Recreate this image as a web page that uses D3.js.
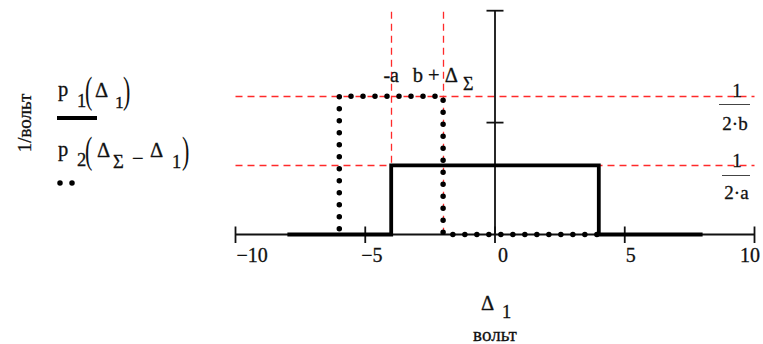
<!DOCTYPE html>
<html>
<head>
<meta charset="utf-8">
<script src="https://cdn.jsdelivr.net/npm/d3@7"></script>
<style>
  html, body { margin: 0; padding: 0; background: #fff; }
  svg { display: block; }
</style>
</head>
<body>
<svg id="chart" width="763" height="344"></svg>
<script>
// Parameters of the two uniform densities
const a = 4;            // half-width of p1
const b = 2;            // half-width of p2
const dSum = -4;        // Δ_Σ

// Axis ticks
const xTicks = [-10, -5, 0, 5, 10];
const xTickLabels = ["\u221210", "\u22125", "0", "5", "10"];
const yMax = 0.405;
const yTicks = [0, yMax / 2, yMax];

// p1(Δ1): step outline on [-8, 8]
const p1X = [-8, -4, -4, 4, 4, 8];
const p1Y = [0, 0, 0.125, 0.125, 0, 0];

// p2(Δ_Σ − Δ1): step outline
const p2X = [-6, -6, -2, -2, 4];
const p2Y = [0, 0.25, 0.25, 0, 0];

// Marker lines
const vMarkers = [-a, b + dSum];
const hMarkers = [0.25, 0.125];

const SERIF = "Liberation Serif";
const svg = d3.select("#chart");

const x = d3.scaleLinear().domain([-10, 10]).range([235.5, 754.5]);
const y = d3.scaleLinear().domain([0, yMax]).range([234.5, 10.7]);
const px = v => Math.round(v) + 0.5;

const RED = "#ff2a2a";
const INK = "#111";

// Horizontal markers
svg.append("g").selectAll("line").data(hMarkers).join("line")
  .attr("x1", x(-10)).attr("x2", x(10))
  .attr("y1", d => px(y(d))).attr("y2", d => px(y(d)))
  .attr("stroke", RED).attr("stroke-width", 1.3)
  .attr("stroke-dasharray", "7 5");

// Vertical markers
svg.append("g").selectAll("line").data(vMarkers).join("line")
  .attr("x1", d => px(x(d))).attr("x2", d => px(x(d)))
  .attr("y1", y(yMax) + 1).attr("y2", y(0))
  .attr("stroke", RED).attr("stroke-width", 1.3)
  .attr("stroke-dasharray", "7 5");

// X axis
const xAxis = svg.append("g");
xAxis.append("line")
  .attr("x1", x(-10)).attr("x2", x(10))
  .attr("y1", y(0)).attr("y2", y(0))
  .attr("stroke", INK).attr("stroke-width", 1.8);
xAxis.selectAll("line.tick").data(xTicks).join("line")
  .attr("class", "tick")
  .attr("x1", d => x(d)).attr("x2", d => x(d))
  .attr("y1", y(0) - 8).attr("y2", y(0) + 8.5)
  .attr("stroke", INK).attr("stroke-width", 1.8);

// Text helper (a hairline stroke gives the glyphs a slightly heavier weight)
function txt(parent, xx, yy, size, s, anchor) {
  return parent.append("text")
    .attr("x", xx).attr("y", yy)
    .attr("font-size", size)
    .attr("font-family", SERIF)
    .attr("fill", INK)
    .attr("stroke", INK).attr("stroke-width", 0.3)
    .attr("text-anchor", anchor || "start")
    .text(s);
}

xTicks.forEach((d, i) => {
  const last = i === xTicks.length - 1;
  txt(xAxis, last ? 760 : x(d) + (d === 0 ? 3 : d === -5 ? -4 : 1), 262, 20,
      xTickLabels[i], last ? "end" : "start");
});

// Y axis
const yAxis = svg.append("g");
yAxis.append("line")
  .attr("x1", x(0)).attr("x2", x(0))
  .attr("y1", y(yMax)).attr("y2", y(0))
  .attr("stroke", INK).attr("stroke-width", 1.8);
yAxis.selectAll("line.tick").data(yTicks.slice(1)).join("line")
  .attr("class", "tick")
  .attr("x1", x(0) - 8.5).attr("x2", x(0) + 8.5)
  .attr("y1", d => y(d)).attr("y2", d => y(d))
  .attr("stroke", INK).attr("stroke-width", 1.8);

// Traces
const line = d3.line().x(d => x(d[0])).y(d => y(d[1]));
const p1Pts = p1X.map((v, i) => [v, p1Y[i]]);
const p2Pts = p2X.map((v, i) => [v, p2Y[i]]);

// Dot phase: put a dot on the top-left corner of p2
const lenToCorner = Math.abs(y(p2Pts[1][1]) - y(p2Pts[0][1]));
const DOT = 12;
const dotOffset = (DOT - (lenToCorner % DOT)) % DOT;

svg.append("path").datum(p1Pts)
  .attr("d", line).attr("fill", "none")
  .attr("stroke", "#000").attr("stroke-width", 3.8)
  .attr("stroke-linejoin", "miter");

svg.append("path").datum(p2Pts)
  .attr("d", line).attr("fill", "none")
  .attr("stroke", "#000").attr("stroke-width", 5.5)
  .attr("stroke-linecap", "round")
  .attr("stroke-dasharray", `0 ${DOT}`)
  .attr("stroke-dashoffset", -dotOffset);

// Marker labels at the top
txt(svg, x(-a), 82, 20, "-a", "middle");
const t2 = svg.append("text")
  .attr("x", x(b + dSum)).attr("y", 82).attr("text-anchor", "middle")
  .attr("font-family", SERIF).attr("fill", INK)
  .attr("stroke", INK).attr("stroke-width", 0.3)
  .attr("font-size", 20.5);
t2.append("tspan").text("b + \u0394");
t2.append("tspan").attr("dx", 5).attr("dy", 8).attr("font-size", 18).text("\u03A3");

// Fraction labels for horizontal markers
function fraction(cx, yNum, yBar, yDen, den, x1, x2) {
  txt(svg, cx, yNum, 19, "1", "middle");
  svg.append("line").attr("x1", x1).attr("x2", x2).attr("y1", yBar + 0.5).attr("y2", yBar + 0.5)
    .attr("stroke", "#444").attr("stroke-width", 1);
  txt(svg, (x1 + x2) / 2 + 0.5, yDen, 19, den, "middle");
}
fraction(737, 97, 104, 130, "2\u00B7b", 719, 750);
fraction(737, 167, 175, 199, "2\u00B7a", 722, 750);

// Axis titles
txt(svg, 481, 310, 20.5, "\u0394");
txt(svg, 502, 318, 18.5, "1");
txt(svg, x(0), 341, 19, "вольт", "middle");

svg.append("text")
  .attr("transform", "translate(31,123) rotate(-90)")
  .attr("text-anchor", "middle").attr("font-size", 19)
  .attr("font-family", SERIF).attr("fill", INK)
  .attr("stroke", INK).attr("stroke-width", 0.3)
  .text("1/вольт");

// Legend
function paren(ch, xx, cy) {
  svg.append("text")
    .attr("transform", `translate(${xx},${cy}) scale(1,1.75)`)
    .attr("y", 5.5).attr("font-size", 22)
    .attr("font-family", SERIF).attr("fill", INK)
    .text(ch);
}
const leg = svg.append("g");
// entry 1: p1(Δ1)
txt(leg, 58, 96, 20.5, "p");
txt(leg, 77, 107, 18.5, "1");
paren("(", 85, 93.5);
txt(leg, 95, 97, 20.5, "\u0394");
txt(leg, 115, 108, 17.5, "1");
paren(")", 123, 93.5);
leg.append("line").attr("x1", 57).attr("x2", 97).attr("y1", 118).attr("y2", 118)
  .attr("stroke", "#000").attr("stroke-width", 3.8);

// entry 2: p2(Δ_Σ − Δ1)
txt(leg, 58, 156, 20.5, "p");
txt(leg, 77, 166, 18.5, "2");
paren("(", 85, 153.5);
txt(leg, 97, 157, 20.5, "\u0394");
txt(leg, 113, 168, 18.5, "\u03A3");
txt(leg, 132, 165, 20.5, "\u2212");
txt(leg, 150, 157, 20.5, "\u0394");
txt(leg, 172, 168, 18.5, "1");
paren(")", 182, 153.5);
leg.append("line").attr("x1", 60).attr("x2", 84).attr("y1", 183).attr("y2", 183)
  .attr("stroke", "#000").attr("stroke-width", 5.5)
  .attr("stroke-linecap", "round").attr("stroke-dasharray", "0 12");
</script>
</body>
</html>
